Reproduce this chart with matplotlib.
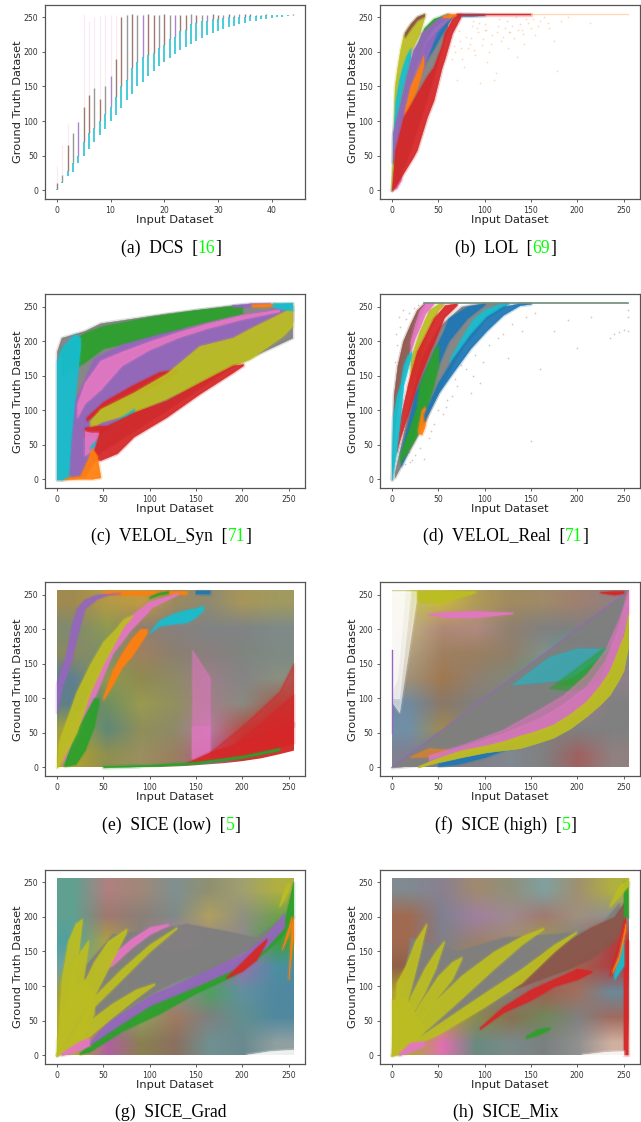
import matplotlib
matplotlib.use('Agg')
import matplotlib.pyplot as plt
from matplotlib.colors import to_rgb
import numpy as np

# (a) DCS, one stack of points per integer input value
dcs_x = list(range(45))
dcs_low = [0, 10, 20, 27, 39, 49, 60, 69, 80, 89, 100, 109, 119, 130, 139, 150, 157, 165, 173, 179, 185, 191, 197,
           203, 207, 212, 216, 220, 224, 227, 230, 233, 236, 238, 241, 242, 244, 245, 247, 248, 249, 250, 251, 252, 253]
dcs_cyan = [2, 12, 28, 40, 50, 70, 82, 90, 100, 110, 120, 135, 150, 160, 177, 185, 192, 195, 198, 205, 210, 218, 222,
            230, 232, 240, 242, 244, 245, 247, 248, 249, 250, 250, 251, 251, 252, 252, 252, 253, 253, 253, 253, 254, 254]
dcs_solid = [10, 22, 65, 82, 99, 120, 138, 148, 132, 150, 165, 190, 250, 254, 255, 253, 254, 255, 253, 253, 255, 254,
             253, 254, 254, 255, 254, 254, 253, 255, 254, 254, 255, 254, 255, 255, 255, 253, 254, 255, 254, 254, 254, 254, 255]
dcs_faint = [35, 66, 95, 82, 100, 255, 245, 250, 252, 253, 253, 253, 254, 255, 255, 254, 255, 255, 253, 253, 255, 254,
             253, 254, 254, 255, 254, 254, 253, 255, 254, 254, 255, 254, 255, 255, 255, 253, 254, 255, 254, 254, 254, 254, 255]
dcs_mid_names = ['tab:brown', 'tab:gray', 'tab:brown', 'tab:gray', 'tab:purple', 'tab:brown']

# bands: series name, input values, lower and upper ground truth
lol_bands = [
    ('tab:pink', [0, 5, 10], [0, 3, 15], [0, 20, 30]),
    ('tab:gray', [3, 15, 30, 45, 60], [5, 40, 100, 165, 235], [50, 110, 165, 215, 245]),
    ('tab:green', [0, 3, 8, 15, 25, 35, 45, 60], [0, 40, 90, 130, 175, 215, 235, 250], [0, 80, 125, 165, 205, 235, 248, 255]),
    ('tab:olive', [0, 3, 6, 9, 12.6, 17, 21.5, 30, 35], [0, 70, 115, 130, 150, 178, 203, 227, 250], [0, 150, 178, 203, 225, 235, 243, 252, 255]),
    ('tab:brown', [14, 20, 27, 35], [222, 234, 246, 252], [228, 240, 251, 255]),
    ('tab:cyan', [1, 4, 8, 12, 16, 20], [40, 95, 125, 150, 170, 190], [70, 130, 160, 180, 195, 205]),
    ('tab:blue', [30, 38, 45, 52, 60, 65, 72, 85, 100], [170, 190, 205, 222, 240, 250, 252, 252, 253], [190, 215, 225, 235, 245, 252, 255, 255, 254]),
    ('tab:purple', [1, 9, 14, 23, 29, 32, 41, 48, 55, 62], [40, 82, 105, 140, 155, 170, 203, 228, 240, 248], [82, 125, 155, 203, 215, 227, 238, 246, 252, 255]),
    ('tab:orange', [14, 20, 25, 30, 34], [105, 125, 140, 160, 180], [115, 150, 165, 180, 195]),
    ('tab:orange', [55, 62, 70], [250, 250, 252], [252, 255, 255]),
    ('tab:red', [0, 3.6, 12.5, 23, 27, 38, 45, 54, 57, 65, 74], [0, 5, 25, 48, 58, 106, 130, 178, 190, 227, 250], [0, 58, 106, 130, 140, 165, 178, 210, 227, 248, 255]),
    ('tab:red', [70, 110, 150], [253, 253, 253], [255, 255, 255]),
]
lol_top_x = [150, 165, 190, 220, 255]
lol_top_y = [254.5, 254.5, 254.5, 254.5, 254.5]
lol_dots_x = [60, 65, 72, 78, 82, 85, 90, 92, 97, 100, 105, 108, 112, 118, 122, 125, 128, 132, 138, 143, 150, 155, 160, 170, 175, 182, 190,
              70, 75, 88, 103, 115, 135, 145, 178, 95, 110, 214, 68, 74, 80, 86, 93, 98, 102, 107, 113, 120, 126, 130, 136, 141, 147, 152, 158,
              164, 168, 63, 67, 76, 84, 89, 94, 101, 116, 124, 134, 140]
lol_dots_y = [215, 190, 230, 178, 205, 220, 195, 235, 210, 240, 200, 225, 170, 215, 235, 205, 228, 220, 240, 212, 235, 225, 245, 235, 215, 245, 250,
              160, 205, 245, 185, 238, 192, 248, 172, 155, 160, 242, 200, 215, 222, 238, 228, 218, 232, 212, 228, 222, 228, 238, 232, 226, 242, 248, 238,
              250, 242, 225, 208, 190, 212, 202, 242, 232, 248, 245, 250, 232]

velol_syn_bands = [
    ('tab:gray', [0, 5, 30, 47, 118, 190, 254], [0, 0, 5, 40, 100, 165, 205], [185, 205, 215, 226, 240, 252, 255]),
    ('tab:green', [5, 30, 50, 100, 150, 200], [150, 170, 190, 205, 225, 240], [190, 212, 222, 235, 245, 252]),
    ('tab:purple', [14, 25, 40, 70, 110, 150, 190, 230, 254], [5, 5, 40, 90, 150, 180, 195, 215, 230], [100, 130, 175, 195, 210, 222, 235, 245, 250]),
    ('tab:pink', [22, 30, 47, 70, 100, 130, 160, 200, 240], [90, 110, 130, 165, 188, 205, 218, 232, 243], [110, 140, 172, 185, 200, 213, 225, 238, 246]),
    ('tab:red', [32, 50, 80, 110, 130], [85, 103, 122, 138, 155], [90, 112, 135, 155, 160]),
    ('tab:olive', [36, 47, 83, 118, 154, 190, 208, 244, 254], [72, 83, 97, 117, 140, 165, 174, 208, 222], [85, 102, 126, 153, 193, 205, 218, 242, 250]),
    ('tab:red', [30, 45, 60], [62, 68, 74], [75, 78, 76]),
    ('tab:pink', [30, 36, 45], [35, 40, 55], [70, 68, 68]),
    ('tab:cyan', [36, 50, 65, 83], [44, 60, 80, 98], [48, 66, 86, 102]),
    ('tab:red', [38, 47, 65, 83, 118, 154, 190, 201], [30, 28, 38, 62, 90, 124, 155, 165], [32, 73, 85, 97, 114, 140, 165, 167]),
    ('tab:orange', [5, 25, 32, 38, 43, 47], [0, 1, 1, 1, 2, 3], [2, 5, 25, 45, 35, 4]),
    ('tab:cyan', [0, 5, 12, 15, 20, 25], [0, 0, 5, 60, 130, 190], [170, 190, 200, 205, 210, 205]),
    ('tab:purple', [190, 210, 230], [250, 250, 252], [252, 255, 255]),
    ('tab:orange', [210, 225, 237], [250, 250, 252], [253, 254, 254]),
    ('tab:cyan', [233, 245, 254], [250, 246, 245], [255, 255, 255]),
]

velol_real_bands = [
    ('tab:brown', [0, 2, 6, 12, 20, 27, 35], [0, 60, 105, 150, 190, 225, 250], [0, 122, 165, 200, 225, 245, 255]),
    ('tab:gray', [3, 30, 50, 75, 100, 125], [3, 70, 125, 190, 232, 254], [10, 170, 220, 250, 255, 255]),
    ('tab:olive', [20, 30, 40, 50, 55], [130, 175, 215, 245, 252], [175, 215, 245, 254, 255]),
    ('tab:pink', [20, 25, 30, 36, 45], [185, 205, 220, 240, 254], [200, 225, 245, 255, 255]),
    ('tab:blue', [10, 25, 45, 56, 61, 81, 100], [20, 70, 150, 185, 200, 233, 253], [40, 125, 185, 215, 233, 250, 255]),
    ('tab:red', [5, 9, 16, 17, 27, 41, 45, 56, 57, 70], [40, 60, 89, 93, 137, 185, 197, 233, 235, 252], [45, 89, 130, 137, 185, 222, 233, 250, 252, 255]),
    ('tab:green', [9, 23, 27, 30, 34, 45, 50], [25, 55, 65, 75, 89, 137, 165], [35, 89, 105, 137, 150, 185, 195]),
    ('tab:orange', [28, 32, 35, 38], [68, 65, 75, 95], [72, 100, 105, 100]),
    ('tab:cyan', [0, 1, 5, 9, 12.5, 17, 21], [0, 10, 41, 89, 137, 160, 180], [30, 89, 120, 137, 165, 180, 185]),
    ('tab:cyan', [63, 77, 88, 100, 115, 125], [170, 195, 209, 232, 245, 254], [175, 209, 232, 245, 253, 255]),
    ('tab:blue', [35, 50, 66, 85, 102, 120, 138, 150], [85, 125, 155, 190, 215, 238, 252, 254], [95, 140, 175, 210, 235, 250, 255, 255]),
]
velol_top_x = [35, 100, 180, 255]
velol_top_y = [254.5, 254.5, 254.5, 254.5]
velol_dots_x = [14, 18, 22, 25, 16, 20, 40, 45, 50, 55, 60, 70, 80, 90, 105, 115, 130, 145, 160, 175, 190, 200, 215, 235, 240, 245, 250, 255, 255, 255,
                5, 8, 12, 30, 35, 65, 75, 85, 95, 125, 150, 110, 3, 6, 9, 15, 18, 24, 28, 42, 58, 68, 88, 98, 120, 140, 155]
velol_dots_y = [22, 40, 28, 35, 45, 25, 60, 80, 100, 95, 115, 135, 160, 180, 195, 205, 225, 235, 160, 215, 230, 190, 235, 205, 210, 213, 216, 215, 235, 245,
                210, 235, 245, 45, 30, 120, 165, 125, 140, 175, 55, 230, 170, 195, 220, 232, 240, 248, 252, 70, 105, 145, 150, 170, 210, 215, 240]

# mean colour of the dense clouds, rows from y=255 down to y=0
sice_low_grid = [
    ['#a08a50', '#b39a45', '#c09a40', '#9a8a60', '#8f8a70', '#a8965a', '#a09a60'],
    ['#7f8a70', '#8f9a50', '#8f7f70', '#887f80', '#808484', '#7f8484', '#7f8a88'],
    ['#8a8a60', '#7a8f70', '#a08060', '#8a8070', '#8a7f7f', '#80857f', '#7f8a85'],
    ['#5f7f90', '#8f9a50', '#8f8a50', '#8f8a68', '#9a7f88', '#858585', '#8a8f80'],
    ['#5f7f88', '#6f9060', '#9a9a50', '#909060', '#a08088', '#8a8a80', '#a06050'],
    ['#a0a040', '#5f8878', '#8f8f5a', '#8f8a6a', '#b07fa0', '#b05045', '#cc3030'],
    ['#b0a030', '#8f8f50', '#9a8f60', '#9a7f60', '#b0608f', '#d03030', '#d83030'],
]
sice_high_grid = [
    ['#c0b860', '#c8b840', '#b09a58', '#a08a60', '#a08a68', '#a08070', '#908080'],
    ['#c0b080', '#b08878', '#b08a80', '#908070', '#808080', '#808080', '#808080'],
    ['#b0a080', '#a08060', '#9a7f60', '#8f7f6a', '#80908a', '#50a098', '#808888'],
    ['#a09078', '#a07850', '#8f8070', '#80887a', '#50a080', '#40a060', '#90808a'],
    ['#708aa0', '#8a7868', '#808080', '#808080', '#808888', '#a08090', '#808080'],
    ['#7090a8', '#a08a50', '#808080', '#808080', '#808080', '#808080', '#808080'],
    ['#808090', '#808080', '#808088', '#808890', '#808080', '#a06060', '#908080'],
]
sice_grad_grid = [
    ['#60a090', '#b08080', '#a08878', '#7f9090', '#909070', '#a0a070', '#b0b040'],
    ['#60a090', '#a07870', '#8a8078', '#808a88', '#b0a060', '#909080', '#70a050'],
    ['#50a0a0', '#b0a040', '#8a8080', '#c080a0', '#9a8a80', '#8f8a90', '#40a040'],
    ['#70a0a0', '#b0a830', '#8a8080', '#808080', '#808080', '#9a70b0', '#4a90a0'],
    ['#a0a040', '#b0a830', '#808080', '#909090', '#50a060', '#6090a0', '#5088a0'],
    ['#b0a830', '#808080', '#90a060', '#a07a60', '#7f8080', '#609090', '#5088a0'],
    ['#b0a830', '#b060a0', '#8a8050', '#8a7060', '#709090', '#6a8a90', '#90a0a0'],
]
sice_mix_grid = [
    ['#808a90', '#8a8090', '#a08a70', '#90907a', '#80a0a0', '#a09070', '#b0b040'],
    ['#a06a50', '#808090', '#a080a0', '#a08a90', '#a07a70', '#a09080', '#909090'],
    ['#a06a50', '#80808a', '#9a8070', '#a08a70', '#a09a50', '#808080', '#b04040'],
    ['#90604a', '#808080', '#a09040', '#909090', '#808080', '#a06050', '#b04040'],
    ['#b0a030', '#a0a030', '#808080', '#808080', '#a06050', '#a07060', '#6a8a9a'],
    ['#b0a830', '#b0a030', '#8a8a50', '#8a7050', '#70885a', '#808080', '#a06a60'],
    ['#b0a830', '#e070b0', '#6a8a80', '#7a8a88', '#7a8080', '#909090', '#d0b0a0'],
]

sice_low_bands = [
    ('tab:orange', [50, 90, 140], [250, 250, 251], [255, 255, 255]),
    ('tab:pink', [40, 70, 100, 130], [120, 190, 230, 250], [125, 210, 240, 252]),
    ('tab:green', [100, 110, 120], [245, 250, 252], [247, 253, 255]),
    ('tab:blue', [150, 158, 165], [251, 251, 251], [255, 255, 255]),
    ('tab:purple', [0, 5, 9, 16, 21.5, 30, 43, 55, 68], [80, 115, 130, 157, 190, 230, 244, 250, 252], [120, 145, 157, 205, 230, 243, 250, 251, 252]),
    ('tab:pink', [5, 20, 40, 60, 80, 100], [5, 30, 100, 165, 200, 228], [20, 65, 125, 175, 205, 232]),
    ('tab:green', [8, 20, 30, 40, 45], [2, 5, 25, 60, 95], [5, 50, 75, 100, 100]),
    ('tab:olive', [0, 2, 16, 21, 36, 50, 63, 72, 81], [0, 2, 37, 50, 109, 150, 182, 205, 218], [5, 37, 90, 109, 150, 182, 200, 215, 220]),
    ('tab:orange', [50, 60, 70, 80, 90, 97], [98, 120, 145, 160, 180, 195], [102, 140, 165, 185, 200, 200]),
    ('tab:cyan', [100, 110, 125, 140, 150, 158], [195, 205, 208, 210, 218, 228], [195, 212, 222, 228, 230, 234]),
    ('tab:red', [140, 165, 180, 200, 220, 240, 255], [5, 11, 14, 18, 24, 30, 36], [7, 22, 28, 36, 45, 55, 65]),
    ('tab:green', [50, 100, 150, 200, 240], [0, 2, 5, 14, 25], [2, 4, 8, 17, 28]),
]
sice_low_haze = [
    ('tab:pink', [146, 165], [12, 12], [170, 130]),
    ('tab:pink', [146, 165], [12, 12], [60, 60]),
    ('tab:red', [165, 200, 240, 255], [20, 36, 55, 60], [22, 60, 110, 150]),
    ('tab:red', [190, 225, 255], [30, 50, 60], [32, 70, 105]),
]
sice_low_edge_x = [90, 140, 180, 200, 220, 240, 258]
sice_low_edge_y = [0, 3, 7, 10, 14, 20, 26]

sice_high_bands = [
    ('tab:gray', [0, 40, 100, 160, 210, 240, 250], [0, 5, 25, 50, 85, 125, 170], [0, 40, 100, 160, 210, 240, 250]),
    ('tab:blue', [50, 70, 100, 130], [2, 5, 15, 30], [6, 12, 22, 32]),
    ('tab:olive', [20, 30, 50, 70, 90], [254, 240, 238, 245, 253], [255, 255, 255, 255, 255]),
    ('tab:pink', [40, 60, 90, 130], [221, 217, 217, 223], [222, 225, 226, 224]),
    ('tab:red', [225, 240, 250], [253, 250, 252], [254, 255, 255]),
]
sice_high_haze = [
    ('tab:cyan', [130, 170, 200, 235], [120, 125, 130, 172], [120, 160, 172, 172]),
    ('tab:green', [170, 190, 210, 225, 235], [115, 112, 115, 130, 170], [115, 135, 155, 170, 175]),
    ('tab:green', [180, 200, 215, 230], [120, 118, 125, 150], [120, 135, 150, 165]),
    ('white', [0, 8, 26], [95, 80, 240], [255, 255, 255]),
    ('white', [0, 8, 20], [100, 100, 250], [255, 255, 255]),
    ('white', [0, 6, 14], [110, 130, 250], [255, 255, 255]),
    ('tab:orange', [20, 40, 60], [15, 16, 24], [16, 28, 26]),
    ('tab:pink', [40, 80, 120, 160, 185, 210, 230, 245, 255], [12, 25, 38, 55, 70, 92, 125, 170, 225], [18, 35, 55, 85, 105, 135, 170, 215, 255]),
    ('tab:pink', [40, 80, 120, 160, 185, 210, 230, 245, 255], [8, 22, 34, 50, 66, 88, 120, 165, 225], [16, 32, 50, 72, 92, 118, 155, 205, 255]),
]
sice_high_olive_x = [28, 48, 75, 102, 120, 138, 156, 174, 192, 210, 224, 235, 244, 250, 255]
sice_high_olive_lo = [0, 7, 15, 22, 25, 28, 35, 43, 56, 74, 90, 105, 125, 140, 175]
sice_high_olive_hi = [2, 13, 25, 32, 38, 46, 53, 62, 77, 96, 118, 140, 170, 190, 222]
sice_high_line_x = [0, 125, 250]
sice_high_line_y = [0, 125, 250]
sice_high_left_x = [0.5, 0.5]
sice_high_left_y = [50, 170]

sice_grad_bands = [
    ('tab:gray', [0, 25, 60, 100, 140, 180, 215, 240], [0, 25, 55, 90, 115, 135, 160, 190], [0, 120, 175, 180, 190, 180, 170, 195]),
    ('tab:pink', [45, 60, 80, 100, 120], [122, 130, 155, 175, 188], [124, 145, 168, 185, 190]),
    ('tab:green', [25, 35, 70, 110, 150, 190, 225, 245, 255], [2, 5, 35, 60, 90, 115, 150, 175, 200], [4, 15, 50, 80, 105, 130, 165, 190, 250]),
    ('tab:purple', [35, 57, 100, 150, 200, 225, 245], [15, 35, 72, 100, 130, 155, 185], [18, 50, 85, 115, 145, 172, 205]),
    ('tab:red', [183, 200, 215, 226], [112, 122, 138, 165], [113, 135, 155, 168]),
    ('tab:olive', [0, 5, 12, 20, 27], [0, 40, 70, 110, 192], [0, 110, 165, 190, 197]),
    ('tab:olive', [0, 15, 25, 34], [0, 45, 80, 160], [0, 120, 150, 166]),
    ('tab:olive', [0, 20, 40, 55, 75], [0, 50, 85, 125, 178], [0, 80, 135, 165, 183]),
    ('tab:olive', [10, 40, 70, 100, 129], [5, 70, 110, 150, 183], [10, 85, 125, 160, 185]),
    ('tab:olive', [0, 30, 60, 85, 105], [0, 22, 55, 82, 102], [0, 45, 75, 95, 104]),
    ('tab:olive', [0, 10, 20, 30, 40], [0, 3, 15, 30, 60], [20, 75, 100, 110, 90]),
    ('tab:pink', [5, 15, 25, 35], [0, 3, 8, 14], [3, 12, 20, 25]),
    ('tab:orange', [243, 250, 253], [153, 175, 195], [155, 185, 200]),
    ('tab:orange', [250, 253, 255], [110, 150, 170], [112, 190, 200]),
    ('tab:olive', [240, 245, 250], [215, 225, 240], [217, 238, 250]),
]
sice_grad_haze = [
    ('white', [205, 230, 255], [0, 0, 0], [1, 6, 8]),
]

sice_mix_bands = [
    ('tab:gray', [0, 20, 70, 120, 170, 220, 245], [0, 10, 55, 95, 125, 155, 185], [0, 170, 150, 170, 175, 180, 220]),
    ('tab:brown', [130, 160, 190, 215, 240, 250], [95, 110, 125, 140, 165, 185], [98, 145, 165, 185, 200, 220]),
    ('tab:red', [95, 120, 150, 175, 200, 215], [38, 62, 80, 100, 110, 120], [40, 70, 95, 110, 125, 122]),
    ('tab:red', [235, 245, 252], [115, 140, 175], [117, 165, 205]),
    ('tab:red', [251, 255], [0, 0], [165, 165]),
    ('tab:cyan', [240, 250], [110, 130], [120, 170]),
    ('tab:orange', [238, 245, 252], [120, 140, 180], [123, 145, 190]),
    ('tab:green', [250, 255], [200, 200], [250, 250]),
    ('tab:olive', [0, 5, 15, 25, 37], [0, 15, 70, 120, 187], [0, 105, 130, 165, 190]),
    ('tab:olive', [5, 20, 35, 47, 56], [15, 55, 90, 125, 162], [20, 85, 125, 150, 165]),
    ('tab:olive', [10, 30, 50, 65, 75], [10, 50, 85, 110, 139], [30, 75, 115, 135, 142]),
    ('tab:olive', [0, 40, 75, 110, 140, 163], [0, 40, 82, 125, 160, 182], [0, 70, 115, 150, 172, 184]),
    ('tab:olive', [0, 50, 100, 140, 175, 199], [0, 30, 70, 105, 150, 177], [0, 45, 90, 125, 160, 179]),
    ('tab:olive', [0, 8, 15, 25, 35], [0, 1, 8, 20, 35], [80, 80, 85, 60, 40]),
    ('tab:pink', [8, 20, 35], [0, 5, 14], [3, 18, 20]),
    ('tab:olive', [235, 245, 255], [215, 230, 245], [217, 245, 255]),
    ('tab:green', [145, 158, 170], [25, 30, 38], [28, 38, 40]),
]
sice_mix_haze = [
    ('white', [205, 230, 250], [0, 0, 0], [1, 5, 6]),
]

x_ticks = [0, 50, 100, 150, 200, 250]
dcs_ticks = [0, 10, 20, 30, 40]
y_ticks = [0, 50, 100, 150, 200, 250]

fig_w, fig_h = 641, 1122
tops = [5, 294.3, 582.3, 870]
lefts = [45, 380]
caption_base = [253, 541, 830, 1117]
caption_center = [171, 505.5]


def make_axes(fig, row, col, xmax=255, ticks=x_ticks):
    ax = fig.add_axes([lefts[col] / fig_w, 1 - (tops[row] + 194) / fig_h, 260 / fig_w, 194 / fig_h])
    ax.set_xlim(-0.05 * xmax, 1.05 * xmax)
    ax.set_ylim(-12.75, 267.75)
    ax.set_xticks(ticks)
    ax.set_yticks(y_ticks)
    ax.tick_params(labelsize=5.6, length=2.4, width=0.6, pad=2.5, color='#444444', labelcolor='#333333')
    ax.set_xlabel('Input Dataset', fontsize=8.2, color='#222222', labelpad=0)
    ax.set_ylabel('Ground Truth Dataset', fontsize=8.2, color='#222222', labelpad=0.5)
    for s in ax.spines.values():
        s.set_color('#555555')
        s.set_linewidth(0.9)
    return ax


def draw_bands(ax, bands, alpha=0.92):
    # a wide pale pass first, the clouds have soft edges
    for name, x, lo, hi in bands:
        ax.fill_between(x, lo, hi, color=name, alpha=alpha * 0.25, linewidth=2.5)
        ax.fill_between(x, lo, hi, color=name, alpha=alpha, linewidth=0.3)


def draw_grid(ax, grid):
    rgb = np.array([[to_rgb(c) for c in row] for row in grid])
    ax.imshow(rgb, extent=[0, 255, 0, 255], origin='upper', aspect='auto', interpolation='bilinear')
    ax.set_xlim(-12.75, 267.75)
    ax.set_ylim(-12.75, 267.75)


def caption(fig, row, col, pieces):
    # pieces are laid out one after the other so the citation can be green
    rend = fig.canvas.get_renderer()
    y = 1 - caption_base[row] / fig_h
    items = []
    total = 0
    for txt, color in pieces:
        t = fig.text(0, y, txt, fontsize=12.7, family='Liberation Serif', color=color, va='baseline')
        w = t.get_window_extent(rend).width
        items.append((t, w))
        total += w
    x = caption_center[col] - total / 2
    for t, w in items:
        t.set_x(x / fig_w)
        x += w


fig = plt.figure(figsize=(fig_w / 100, fig_h / 100), dpi=100)

# (a) DCS
ax = make_axes(fig, 0, 0, xmax=44, ticks=dcs_ticks)
ax.vlines(dcs_x, dcs_solid, dcs_faint, color='tab:pink', linewidth=0.9, alpha=0.15)
mid_colors = [dcs_mid_names[i % len(dcs_mid_names)] for i in dcs_x]
ax.vlines(dcs_x, dcs_cyan, dcs_solid, color=mid_colors, linewidth=1.0, alpha=0.8)
ax.vlines(dcs_x, dcs_low, dcs_cyan, color='tab:cyan', linewidth=1.1)

# (b) LOL
ax = make_axes(fig, 0, 1)
ax.scatter(lol_dots_x, lol_dots_y, s=1.5, color='tab:orange', alpha=0.3, linewidths=0)
ax.plot(lol_top_x, lol_top_y, color='tab:orange', linewidth=1.0, alpha=0.3)
draw_bands(ax, lol_bands)

# (c) VELOL_Syn
ax = make_axes(fig, 1, 0)
draw_bands(ax, velol_syn_bands)

# (d) VELOL_Real
ax = make_axes(fig, 1, 1)
ax.scatter(velol_dots_x, velol_dots_y, s=1.5, color='tab:brown', alpha=0.35, linewidths=0)
ax.plot(velol_top_x, velol_top_y, color='#708a78', linewidth=1.2)
draw_bands(ax, velol_real_bands)

# (e) SICE low
ax = make_axes(fig, 2, 0)
draw_grid(ax, sice_low_grid)
draw_bands(ax, sice_low_haze, alpha=0.5)
draw_bands(ax, sice_low_bands)
ax.fill_between(sice_low_edge_x, -2, sice_low_edge_y, color='white', linewidth=0)

# (f) SICE high
ax = make_axes(fig, 2, 1)
draw_grid(ax, sice_high_grid)
draw_bands(ax, sice_high_bands)
draw_bands(ax, sice_high_haze, alpha=0.5)
ax.fill_between(sice_high_olive_x, sice_high_olive_lo, sice_high_olive_hi, color='tab:olive', alpha=0.95, linewidth=0.5)
ax.plot(sice_high_line_x, sice_high_line_y, color='tab:purple', linewidth=0.7)
ax.plot(sice_high_left_x, sice_high_left_y, color='tab:purple', linewidth=1.0)

# (g) SICE_Grad
ax = make_axes(fig, 3, 0)
draw_grid(ax, sice_grad_grid)
draw_bands(ax, sice_grad_bands)
draw_bands(ax, sice_grad_haze, alpha=0.8)

# (h) SICE_Mix
ax = make_axes(fig, 3, 1)
draw_grid(ax, sice_mix_grid)
draw_bands(ax, sice_mix_bands)
draw_bands(ax, sice_mix_haze, alpha=0.8)

fig.canvas.draw()
black = 'black'
green = '#00ff00'
caption(fig, 0, 0, [('(a)  DCS  [', black), ('16', green), (']', black)])
caption(fig, 0, 1, [('(b)  LOL  [', black), ('69', green), (']', black)])
caption(fig, 1, 0, [('(c)  VELOL_Syn  [', black), ('71', green), (']', black)])
caption(fig, 1, 1, [('(d)  VELOL_Real  [', black), ('71', green), (']', black)])
caption(fig, 2, 0, [('(e)  SICE (low)  [', black), ('5', green), (']', black)])
caption(fig, 2, 1, [('(f)  SICE (high)  [', black), ('5', green), (']', black)])
caption(fig, 3, 0, [('(g)  SICE_Grad', black)])
caption(fig, 3, 1, [('(h)  SICE_Mix', black)])

fig.savefig('out.png', dpi=100)
